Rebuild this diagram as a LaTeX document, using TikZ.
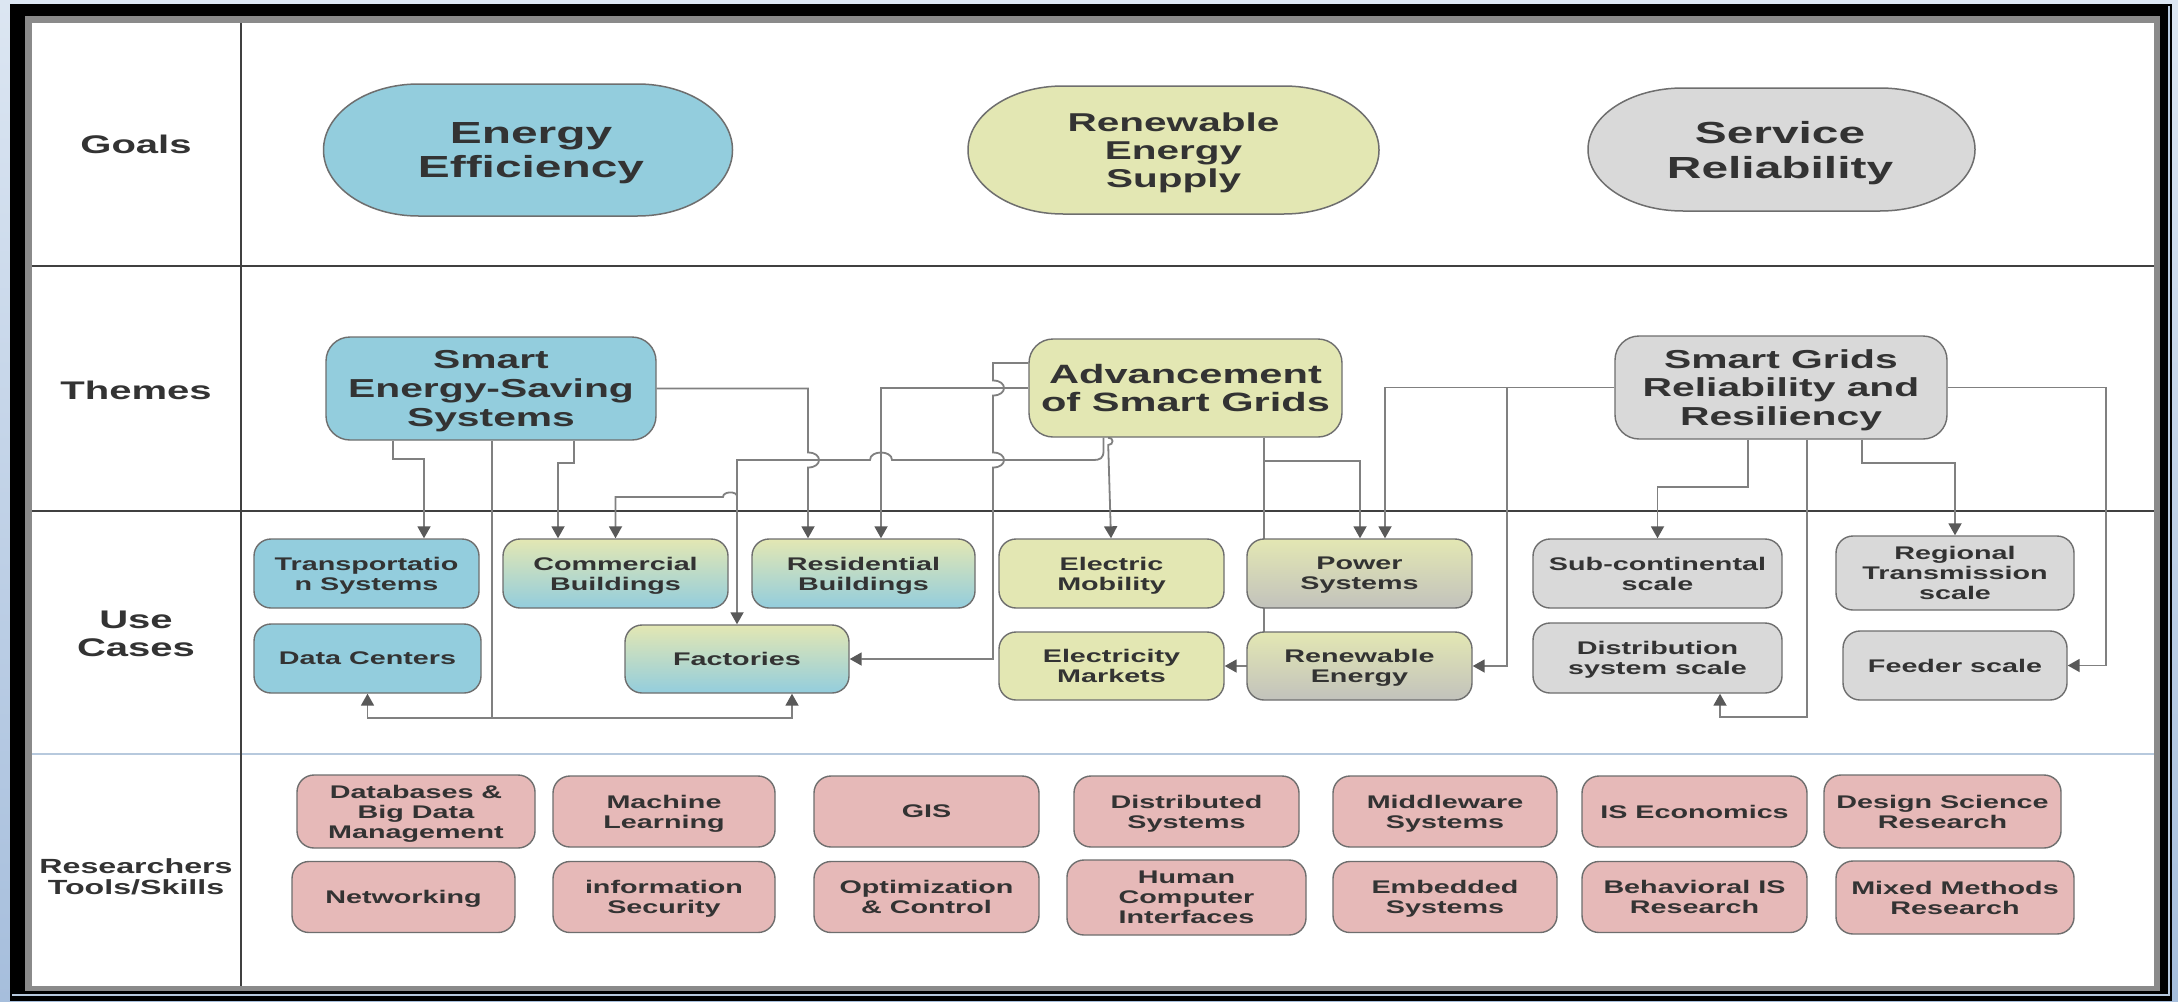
\documentclass[tikz,border=0pt]{standalone}
\usepackage{fontspec}
\setmainfont{Liberation Sans}[FakeStretch=1.57]
\usetikzlibrary{arrows.meta,calc}

\definecolor{txt}{HTML}{333333}
\definecolor{cblue}{HTML}{93CDDD}
\definecolor{cyel}{HTML}{E3E7B3}
\definecolor{cgray}{HTML}{D9D9D9}
\definecolor{cgrayb}{HTML}{C2C2BC}
\definecolor{cpink}{HTML}{E6B9B8}
\definecolor{edgec}{HTML}{6E6E6E}
\definecolor{connc}{HTML}{808080}
\definecolor{tipc}{HTML}{595959}
\definecolor{gridc}{HTML}{404040}
\definecolor{sepc}{HTML}{B7C9DD}
\definecolor{framec}{HTML}{8A8A8A}
\definecolor{bgtop}{HTML}{DCE6F2}
\definecolor{bgbot}{HTML}{A6BEDC}

\pgfdeclarelayer{back}
\pgfdeclarelayer{lines}
\pgfsetlayers{back,lines,main}

% stadium outline with elliptic ends: cx, cy, half width, half height, fill
\newcommand\goalshape[5]{%
  \pgfmathsetmacro\gL{#1-#3}%
  \pgfmathsetmacro\gR{#1+#3}%
  \pgfmathsetmacro\gT{#2-#4}%
  \pgfmathsetmacro\gB{#2+#4}%
  \pgfmathsetmacro\gLi{#1-#3+95}%
  \pgfmathsetmacro\gRi{#1+#3-95}%
  \pgfmathsetmacro\gky{0.5523*#4}%
  \path[goalshp,fill=#5] (\gLi,\gT) -- (\gRi,\gT)
    .. controls (\gRi+52.5,\gT) and (\gR,#2-\gky) .. (\gR,#2)
    .. controls (\gR,#2+\gky) and (\gRi+52.5,\gB) .. (\gRi,\gB)
    -- (\gLi,\gB)
    .. controls (\gLi-52.5,\gB) and (\gL,#2+\gky) .. (\gL,#2)
    .. controls (\gL,#2-\gky) and (\gLi-52.5,\gT) .. cycle;}

\begin{document}
\begin{tikzpicture}[x=1pt,y=-1pt,
  goalshp/.style={draw=edgec,line width=1.5pt},
  goaltxt/.style={align=center,text=txt,inner sep=0pt,text depth=0pt,
    font=\fontsize{30.5}{34.2}\selectfont\bfseries},
  lab/.style={align=center,text=txt,inner sep=0pt,text depth=0pt,
    font=\fontsize{25.5}{28}\selectfont\bfseries},
  labsmall/.style={lab,font=\fontsize{20.5}{21.5}\selectfont\bfseries},
  box/.style={draw=edgec,line width=1.4pt,rounded corners=17pt,
    minimum width=225pt,minimum height=69pt,inner sep=0pt,text depth=0pt,
    align=center,text=txt,font=\fontsize{18.3}{20}\selectfont\bfseries},
  theme/.style={box,rounded corners=24pt,
    font=\fontsize{26}{28.8}\selectfont\bfseries},
  mixbox/.style={top color=cyel,bottom color=cblue},
  pgbox/.style={top color=cyel,bottom color=cgrayb},
  tool/.style={box,fill=cpink,minimum width=225pt,minimum height=71pt},
  wire/.style={draw=connc,line width=1.8pt},
  conn/.style={wire,-{Triangle[length=12pt,width=13pt,color=tipc]}},
]
\useasboundingbox (0,0) rectangle (2178,1001);

% ---------- window frame and table ----------
\begin{pgfonlayer}{back}
  \shade[top color=bgtop,bottom color=bgbot] (0,0) rectangle (2178,1001);
  \fill[black] (10,4) rectangle (2172,1001);
  \draw[sepc,line width=2pt] (12,994.5) -- (2168.5,994.5) -- (2168.5,6);
  \fill[framec] (25,16) rectangle (2160,991);
  \fill[white] (32,23) rectangle (2154,986);
  % rows and label column
  \draw[gridc,line width=2pt] (32,265.7) -- (2154,265.7);
  \draw[gridc,line width=2pt] (32,511) -- (2154,511);
  \draw[sepc,line width=2pt] (32,754) -- (2154,754);
  \draw[gridc,line width=1.8pt] (241,23) -- (241,986);
\end{pgfonlayer}

% ---------- row labels ----------
\node[lab] (lgoals) at (136,144) {Goals};
\node[lab] (lthemes) at (136,390) {Themes};
\node[lab] (luse) at (136,634) {Use\\Cases};
\node[labsmall] (ltools) at (136,876.5) {Researchers\\Tools/Skills};

% ---------- goals ----------
\goalshape{528}{150}{204.5}{66}{cblue}
\node[goaltxt] (ee) at (531,150) {Energy\\Efficiency};
\goalshape{1173.5}{150}{205.5}{64}{cyel}
\node[goaltxt,font=\fontsize{25.8}{28}\selectfont\bfseries] (res) at (1173.5,150) {Renewable\\Energy\\Supply};
\goalshape{1781.5}{149.5}{193.5}{61.5}{cgray}
\node[goaltxt] (sr) at (1780,150) {Service\\Reliability};

% ---------- themes ----------
\node[theme,fill=cblue,minimum width=330pt,minimum height=103pt] (sess) at (491,388.5) {Smart\\Energy-Saving\\Systems};
\node[theme,fill=cyel,minimum width=313pt,minimum height=98pt,font=\fontsize{26.5}{28.5}\selectfont\bfseries] (asg) at (1185.5,388) {Advancement\\of Smart Grids};
\node[theme,fill=cgray,minimum width=332pt,minimum height=103pt] (sgrr) at (1781,387.5) {Smart Grids\\Reliability and\\Resiliency};

% ---------- use cases ----------
\node[box,fill=cblue] (trans) at (366.5,573.5) {Transportatio\\n Systems};
\node[box,mixbox] (comm) at (615.5,573.5) {Commercial\\Buildings};
\node[box,mixbox,minimum width=223pt] (resid) at (863.5,573.5) {Residential\\Buildings};
\node[box,fill=cyel] (emob) at (1111.5,573.5) {Electric\\Mobility};
\node[box,pgbox] (power) at (1359.5,573.5) {Power\\Systems};
\node[box,fill=cgray,minimum width=249pt] (subc) at (1657.5,573.5) {Sub-continental\\scale};
\node[box,fill=cgray,minimum width=238pt,minimum height=74pt] (regt) at (1955,573) {Regional\\Transmission\\scale};
\node[box,fill=cblue,minimum width=227pt] (datac) at (367.5,658.5) {Data Centers};
\node[box,mixbox,minimum width=224pt,minimum height=68pt] (fact) at (737,659) {Factories};
\node[box,fill=cyel,minimum height=68pt] (emkt) at (1111.5,666) {Electricity\\Markets};
\node[box,pgbox,minimum height=68pt] (renew) at (1359.5,666) {Renewable\\Energy};
\node[box,fill=cgray,minimum width=249pt,minimum height=70pt] (dist) at (1657.5,658) {Distribution\\system scale};
\node[box,fill=cgray,minimum width=224pt] (feed) at (1955,665.5) {Feeder scale};

% ---------- researchers' tools and skills ----------
\node[tool,minimum width=238pt,minimum height=73pt] (db) at (416,811.5) {Databases \&\\Big Data\\Management};
\node[tool,minimum width=222pt] (ml) at (664,811.5) {Machine\\Learning};
\node[tool] (gis) at (926.5,811.5) {GIS};
\node[tool] (dsys) at (1186.5,811.5) {Distributed\\Systems};
\node[tool,minimum width=224pt] (mw) at (1445,811.5) {Middleware\\Systems};
\node[tool] (ise) at (1694.5,811.5) {IS Economics};
\node[tool,minimum width=237pt,minimum height=73pt] (dsr) at (1942.5,811.5) {Design Science\\Research};
\node[tool,minimum width=223pt] (net) at (403.5,897) {Networking};
\node[tool,minimum width=222pt] (isec) at (664,897) {information\\Security};
\node[tool] (opt) at (926.5,897) {Optimization\\\& Control};
\node[tool,minimum width=239pt,minimum height=75pt] (hci) at (1186.5,897.5) {Human\\Computer\\Interfaces};
\node[tool,minimum width=224pt] (emb) at (1445,897) {Embedded\\Systems};
\node[tool] (beh) at (1694.5,897) {Behavioral IS\\Research};
\node[tool,minimum width=238pt,minimum height=73pt] (mmr) at (1955,897.5) {Mixed Methods\\Research};

% ---------- connectors ----------
\begin{pgfonlayer}{lines}
  % Smart Energy-Saving Systems
  \draw[conn] ($(sess.south)+(-98,0)$) -- ++(0,18) -| ($(trans.north)+(57.5,0)$);
  \draw[conn] ($(sess.south)+(83,0)$) -- ++(0,22) -| ($(comm.north)+(-57.5,0)$);
  \draw[wire] ($(sess.south)+(1,0)$) -- ++(0,277) coordinate (c3j);
  \draw[conn] (c3j) -| (datac.south);
  \draw[conn] (c3j) -| ($(fact.south)+(55,0)$);
  \draw[conn] (sess.east) -- (808,388.5) -- (808,452.5)
     .. controls (822.7,452.5) and (822.7,467.5) .. (808,467.5)
     -- ($(resid.north)+(-55.5,0)$);

  % Advancement of Smart Grids
  \draw[conn] (asg.west) -| ($(resid.north)+(17.5,0)$);
  \draw[conn] ($(asg.west)+(0,-25)$) -- (993,363) -- (993,380.5)
     .. controls (1007.7,380.5) and (1007.7,395.5) .. (993,395.5)
     -- (993,452.5)
     .. controls (1007.7,452.5) and (1007.7,467.5) .. (993,467.5)
     |- (fact.east);
  \draw[conn] ($(asg.south)+(-82,0)$) -- (1103.5,451)
     .. controls (1103.5,458) and (1100,460) .. (1094,460)
     -- (892,460) .. controls (892,450) and (870,450) .. (870,460)
     -- (737,460) -- (fact.north);
  \coordinate (c7j) at ($(fact.north)+(0,-128)$);
  \draw[conn] (c7j) .. controls (737,491) and (723,491) .. (723,497) -| (comm.north);
  \draw[conn] ($(asg.south)+(-77.5,0)$) .. controls (1114,437) and (1114,445) .. (1108.2,445)
     -- ($(emob.north)+(-0.5,0)$);
  \draw[conn] ($(asg.south)+(78.5,0)$) |- (emkt.east);
  \coordinate (c9j) at ($(asg.south)+(78.5,23)$);
  \draw[conn] (c9j) -| ($(power.north)+(0.5,0)$);

  % Smart Grids Reliability and Resiliency
  \draw[conn] (sgrr.west) -| ($(power.north)+(25.5,0)$);
  \coordinate (c11j) at ($(sgrr.west)+(-107,0)$);
  \draw[conn] (c11j) |- (renew.east);
  \draw[conn] ($(sgrr.south)+(-33,0)$) -- ++(0,47) -| (subc.north);
  \draw[conn] ($(sgrr.south)+(26,0)$) -- ++(0,277) -| ($(dist.south)+(62.5,0)$);
  \draw[conn] ($(sgrr.south)+(81,0)$) -- ++(0,23) -| (regt.north);
  \draw[conn] (sgrr.east) -- ++(158,0) |- (feed.east);
\end{pgfonlayer}
\end{tikzpicture}
\end{document}
